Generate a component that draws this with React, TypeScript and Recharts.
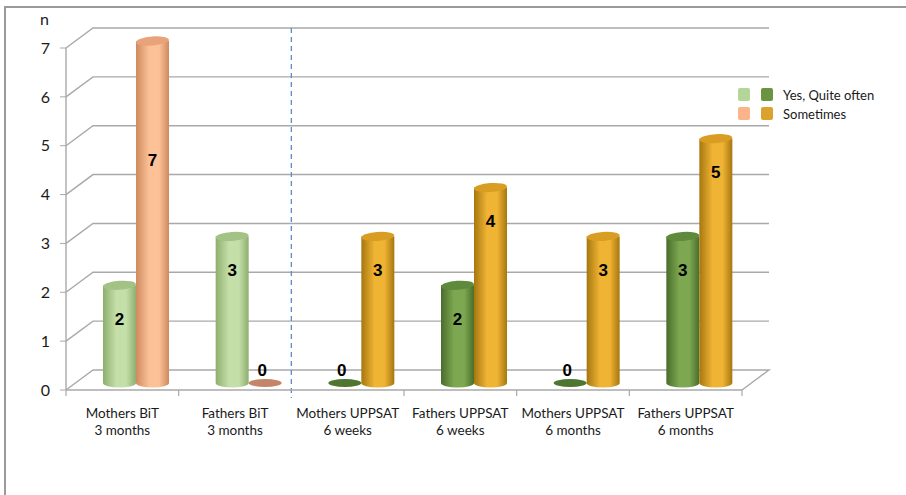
import { BarChart, Bar, XAxis, YAxis, CartesianGrid } from "recharts";

const groups = ["Mothers BiT", "Fathers BiT", "Mothers UPPSAT", "Fathers UPPSAT", "Mothers UPPSAT", "Fathers UPPSAT"];
const periods = ["3 months", "3 months", "6 weeks", "6 weeks", "6 months", "6 months"];
const cohort = ["BiT", "BiT", "UPPSAT", "UPPSAT", "UPPSAT", "UPPSAT"];
const quiteOften = [2, 3, 0, 2, 0, 3];
const sometimes = [7, 0, 3, 4, 3, 5];
const yTicks = [0, 1, 2, 3, 4, 5, 6, 7];

const data = groups.map((g, i) => ({
  key: `${g}|${periods[i]}`,
  cohort: cohort[i],
  quiteOften: quiteOften[i],
  sometimes: sometimes[i],
}));

// depth offsets for the fake 3d look
const DEPTH_X = 27;
const DEPTH_Y = 20;
const BAR_DX = 14;
const BAR_DY = -7;

const palette: Record<string, Record<string, { id: string; edge: string; mid: string; top: string; flat: string; swatch: string }>> = {
  quiteOften: {
    BiT: { id: "gLightGreen", edge: "#8eae6e", mid: "#c4dfa8", top: "#a3c386", flat: "#8fb070", swatch: "#b3d597" },
    UPPSAT: { id: "gDarkGreen", edge: "#4a6d2b", mid: "#7da851", top: "#5f8a3b", flat: "#4e7630", swatch: "#6b9442" },
  },
  sometimes: {
    BiT: { id: "gOrange", edge: "#cf8a5f", mid: "#fcc196", top: "#e9a37a", flat: "#c4866a", swatch: "#fbb48a" },
    UPPSAT: { id: "gGold", edge: "#a6770f", mid: "#f0b434", top: "#d89d22", flat: "#b07e14", swatch: "#dba22e" },
  },
};

const Cylinder = (props: any) => {
  const { x, y, width, height, payload, seriesKey } = props;
  const v = payload[seriesKey];
  const c = palette[seriesKey][payload.cohort];
  const left = x + BAR_DX;
  const cx = left + width / 2;
  const rx = width / 2;
  const base = y + height + BAR_DY;
  const top = y + BAR_DY;
  const labelStyle = { fontFamily: "Liberation Sans, Arial, sans-serif", fontWeight: 700, fontSize: 17, fill: "#000" } as const;
  if (!v) {
    return (
      <g>
        <ellipse cx={cx} cy={base} rx={rx} ry={4} fill={c.flat} />
        <text x={cx - 3} y={base - 13} textAnchor="middle" dominantBaseline="central" style={labelStyle}>
          0
        </text>
      </g>
    );
  }
  const h = base - top;
  const labelY = h > 300 ? top + h * 0.35 : top + 34;
  return (
    <g>
      <path
        d={`M${left},${top} L${left},${base} A${rx},4.5 0 0 0 ${left + width},${base} L${left + width},${top} Z`}
        fill={`url(#${c.id})`}
      />
      <ellipse cx={cx} cy={top} rx={rx} ry={4.5} fill={c.top} transform={`rotate(-4 ${cx} ${top})`} />
      <text x={cx} y={labelY} textAnchor="middle" dominantBaseline="central" style={labelStyle}>
        {v}
      </text>
    </g>
  );
};

const GridLine = (props: any) => {
  const { x1, y1, x2, y, height } = props;
  const isFloor = Math.abs(y1 - (y + height)) < 0.5;
  const d = isFloor
    ? `M${x1},${y1} L${x1 + DEPTH_X},${y1 - DEPTH_Y} L${x2 + DEPTH_X},${y1 - DEPTH_Y} L${x2},${y1}`
    : `M${x1},${y1} L${x1 + DEPTH_X},${y1 - DEPTH_Y} L${x2 + DEPTH_X},${y1 - DEPTH_Y}`;
  return <path key={props.key} d={d} stroke="#a9a9a9" strokeWidth={1.4} fill="none" />;
};

const VLine = (props: any) => {
  const { x1, y1, y2, index } = props;
  if (index === 2) {
    return (
      <line
        key={props.key}
        x1={x1}
        x2={x1}
        y1={y1 - DEPTH_Y}
        y2={y2 + 8}
        stroke="#5f8cc6"
        strokeWidth={1.3}
        strokeDasharray="5 4"
      />
    );
  }
  return <line key={props.key} x1={x1} x2={x1} y1={y2} y2={y2 + 6} stroke="#a9a9a9" strokeWidth={1.2} />;
};

const XTick = (props: any) => {
  const { x, y, payload } = props;
  const [a, b] = String(payload.value).split("|");
  return (
    <text x={x} y={y} textAnchor="middle" style={{ fontFamily: "Lato, sans-serif", fontSize: 13.5, fill: "#1a1a1a" }}>
      <tspan x={x} dy={20}>{a}</tspan>
      <tspan x={x} dy={17}>{b}</tspan>
    </text>
  );
};

const LegendBox = () => {
  const rows = [
    { label: "Yes, Quite often", key: "quiteOften" },
    { label: "Sometimes", key: "sometimes" },
  ];
  return (
    <div style={{ position: "absolute", left: 738, top: 85, fontFamily: "Lato, sans-serif", fontSize: 13, color: "#1a1a1a" }}>
      {rows.map((r) => (
        <div key={r.key} style={{ display: "flex", alignItems: "center", height: 19 }}>
          <span style={{ width: 12, height: 13, borderRadius: 2, background: palette[r.key].BiT.swatch, marginRight: 11 }} />
          <span style={{ width: 12, height: 13, borderRadius: 2, background: palette[r.key].UPPSAT.swatch, marginRight: 10 }} />
          <span>{r.label}</span>
        </div>
      ))}
    </div>
  );
};

const gradients = Object.values(palette).flatMap((s) => Object.values(s));

export default function App() {
  return (
    <div style={{ position: "absolute", left: 0, top: 0, width: 906, height: 495, background: "#fff", overflow: "hidden" }}>
      <div
        style={{
          position: "absolute",
          left: 4,
          top: 6,
          width: 910,
          height: 500,
          borderTop: "2px solid #9a9a9a",
          borderLeft: "2px solid #9a9a9a",
        }}
      />
      <div style={{ position: "absolute", left: 40, top: 9, fontFamily: "Lato, sans-serif", fontSize: 16, color: "#1a1a1a" }}>n</div>
      <BarChart
        width={906}
        height={495}
        data={data}
        margin={{ top: 48, right: 164, bottom: 75, left: 0 }}
        barGap={0}
        barSize={33}
        style={{ position: "absolute", left: 0, top: 0 }}
      >
        <defs>
          {gradients.map((c) => (
            <linearGradient key={c.id} id={c.id} x1="0" y1="0" x2="1" y2="0">
              <stop offset="0%" stopColor={c.edge} />
              <stop offset="40%" stopColor={c.mid} />
              <stop offset="70%" stopColor={c.mid} />
              <stop offset="100%" stopColor={c.edge} />
            </linearGradient>
          ))}
        </defs>
        <CartesianGrid
          horizontal={GridLine}
          vertical={VLine}
          verticalCoordinatesGenerator={({ offset }: any) =>
            Array.from({ length: groups.length + 1 }, (_, i) => offset.left + (offset.width * i) / groups.length)
          }
        />
        <XAxis
          dataKey="key"
          height={30}
          axisLine={{ stroke: "#a9a9a9", strokeWidth: 1.4 }}
          tickLine={false}
          tick={<XTick />}
          interval={0}
        />
        <YAxis
          width={66}
          domain={[0, 7]}
          ticks={yTicks}
          axisLine={{ stroke: "#a9a9a9", strokeWidth: 1.4 }}
          tickLine={{ stroke: "#a9a9a9" }}
          tick={{ fontFamily: "Lato, sans-serif", fontSize: 16, fill: "#1a1a1a" }}
          tickMargin={10}
        />
        <Bar dataKey="quiteOften" isAnimationActive={false} shape={(p: any) => <Cylinder {...p} seriesKey="quiteOften" />} />
        <Bar dataKey="sometimes" isAnimationActive={false} shape={(p: any) => <Cylinder {...p} seriesKey="sometimes" />} />
      </BarChart>
      <LegendBox />
    </div>
  );
}
